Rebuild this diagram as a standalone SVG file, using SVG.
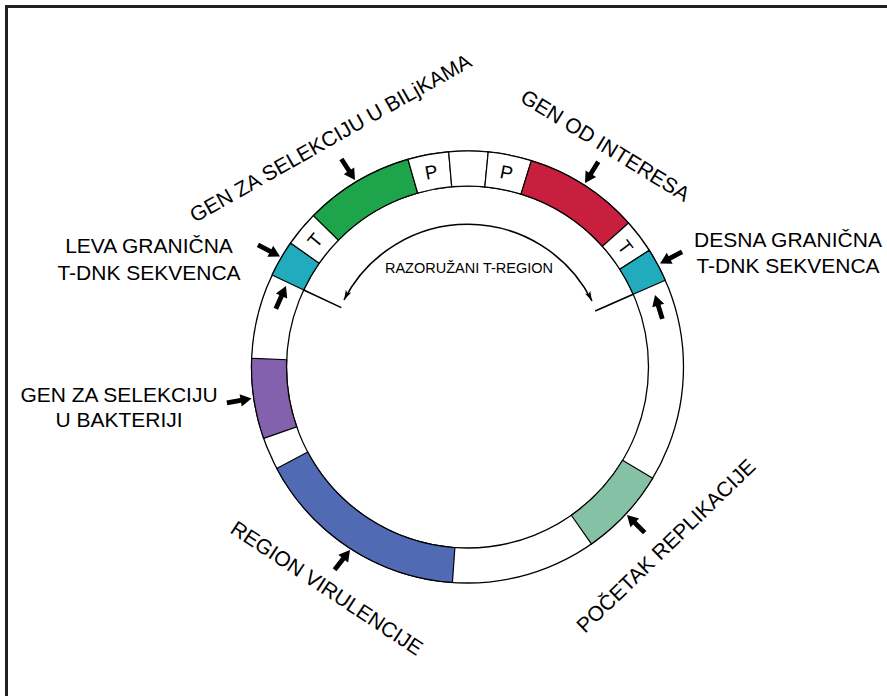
<svg xmlns="http://www.w3.org/2000/svg" width="887" height="696" viewBox="0 0 887 696">
<style>
.lbl{font-family:"Liberation Sans",Arial,sans-serif;font-size:21px;fill:#000}
.mid{text-anchor:middle}
.box{font-family:"Liberation Sans",Arial,sans-serif;font-size:19px;fill:#000;text-anchor:middle}
.small{font-family:"Liberation Sans",Arial,sans-serif;font-size:14.5px;fill:#000;text-anchor:middle}
.seg{stroke:#000;stroke-width:1.2;stroke-linejoin:miter}
.ring{fill:#fff;stroke:#000;stroke-width:1.3}
.ptr{fill:#000}
.br{fill:none;stroke:#000;stroke-width:1.6}
</style>
<defs>
<path id="blk" d="M0,0 L-11,-6.2 L-11,-2.4 L-25,-2.4 L-25,2.4 L-11,2.4 L-11,6.2 Z"/>
<marker id="thin" viewBox="0 0 10 6" refX="10" refY="3" markerWidth="10" markerHeight="6" markerUnits="userSpaceOnUse" orient="auto-start-reverse"><path d="M0,0 L10,3 L0,6 L2.5,3 Z" fill="#000"/></marker>
</defs>
<rect width="887" height="696" fill="#fff"/>
<path id="frame" d="M6.5,700 V6.5 H890" fill="none" stroke="#231f20" stroke-width="3"/>
<g id="plasmid">
<circle class="ring" cx="467.5" cy="367" r="216"/>
<circle class="ring" cx="467.5" cy="367" r="181"/>
</g>
<g id="region-virulencije"><path class="seg" fill="#506bb4" d="M452.43,582.47 A216,216 0 0 1 276.78,468.41 L307.69,451.97 A181,181 0 0 0 454.87,547.56 Z"/></g>
<g id="gen-bakterija"><path class="seg" fill="#8461ad" d="M263.64,438.39 A216,216 0 0 1 251.67,358.33 L286.65,359.74 A181,181 0 0 0 296.67,426.82 Z"/></g>
<g id="leva-granicna"><path class="seg" fill="#22abbd" d="M272.06,275.03 A216,216 0 0 1 290.56,243.11 L319.23,263.18 A181,181 0 0 0 303.73,289.93 Z"/></g>
<g id="t-levo"><path class="seg" fill="#fff" d="M290.56,243.11 A216,216 0 0 1 313.44,215.60 L338.40,240.14 A181,181 0 0 0 319.23,263.18 Z"/>
<text class="box" transform="translate(314.9,240.1) rotate(-50.25)" y="6.8">T</text></g>
<g id="gen-biljke"><path class="seg" fill="#1ea44b" d="M313.44,215.60 A216,216 0 0 1 407.96,159.37 L417.61,193.01 A181,181 0 0 0 338.40,240.14 Z"/></g>
<g id="p1"><path class="seg" fill="#fff" d="M407.96,159.37 A216,216 0 0 1 448.67,151.82 L451.72,186.69 A181,181 0 0 0 417.61,193.01 Z"/>
<text class="box" transform="translate(431.3,171.8) rotate(-10.5)" y="6.8">P</text></g>
<g id="prazno"><path class="seg" fill="#fff" d="M448.67,151.82 A216,216 0 0 1 488.20,151.99 L484.85,186.83 A181,181 0 0 0 451.72,186.69 Z"/></g>
<g id="p2"><path class="seg" fill="#fff" d="M488.20,151.99 A216,216 0 0 1 531.37,160.66 L521.02,194.09 A181,181 0 0 0 484.85,186.83 Z"/>
<text class="box" transform="translate(506.6,172.4) rotate(11.35)" y="6.8">P</text></g>
<g id="gen-interes"><path class="seg" fill="#c91f3f" d="M531.37,160.66 A216,216 0 0 1 628.52,223.03 L602.43,246.36 A181,181 0 0 0 521.02,194.09 Z"/></g>
<g id="t-desno"><path class="seg" fill="#fff" d="M628.52,223.03 A216,216 0 0 1 649.27,250.31 L619.81,269.22 A181,181 0 0 0 602.43,246.36 Z"/>
<text class="box" transform="translate(625.5,246.9) rotate(52.75)" y="6.8">T</text></g>
<g id="desna-granicna"><path class="seg" fill="#22abbd" d="M649.27,250.31 A216,216 0 0 1 665.28,280.18 L633.23,294.25 A181,181 0 0 0 619.81,269.22 Z"/></g>
<g id="pocetak-replikacije"><path class="seg" fill="#84c1a5" d="M652.65,478.25 A216,216 0 0 1 591.39,543.94 L571.32,515.27 A181,181 0 0 0 622.65,460.22 Z"/></g>
<g id="connectors">
<path class="br" d="M303.73,289.93 L341.3,307.6"/>
<path class="br" d="M633.23,294.25 L595.2,310.9"/>
<path class="br" d="M344,300 A139,139 0 0 1 592,301" marker-start="url(#thin)" marker-end="url(#thin)"/>
<use class="ptr" href="#blk" transform="translate(355,180) rotate(57)"/>
<use class="ptr" href="#blk" transform="translate(585,183) rotate(122)"/>
<use class="ptr" href="#blk" transform="translate(280,256.5) rotate(28)"/>
<use class="ptr" href="#blk" transform="translate(286,286) rotate(-66)"/>
<use class="ptr" href="#blk" transform="translate(660,263.5) rotate(152)"/>
<use class="ptr" href="#blk" transform="translate(655,295) rotate(-107)"/>
<use class="ptr" href="#blk" transform="translate(251.5,398.5) rotate(-10)"/>
<use class="ptr" href="#blk" transform="translate(350,550) rotate(-52)"/>
<use class="ptr" href="#blk" transform="translate(627,515) rotate(-135)"/>
</g>
<g id="labels">
<text class="small" x="469" y="273">RAZORUŽANI T-REGION</text>
<text class="lbl" transform="translate(195,223) rotate(-29.5)">GEN ZA SELEKCIJU U BILjKAMA</text>
<text class="lbl" transform="translate(519,101) rotate(31.5)">GEN OD INTERESA</text>
<text class="lbl mid" x="149" y="253">LEVA GRANIČNA</text>
<text class="lbl mid" x="149" y="280">T-DNK SEKVENCA</text>
<text class="lbl mid" x="788" y="247">DESNA GRANIČNA</text>
<text class="lbl mid" x="788" y="273">T-DNK SEKVENCA</text>
<text class="lbl mid" x="119" y="402">GEN ZA SELEKCIJU</text>
<text class="lbl mid" x="119" y="427">U BAKTERIJI</text>
<text class="lbl" transform="translate(229,532) rotate(33.5)">REGION VIRULENCIJE</text>
<text class="lbl" transform="translate(585,634) rotate(-44)">POČETAK REPLIKACIJE</text>
</g>
</svg>
